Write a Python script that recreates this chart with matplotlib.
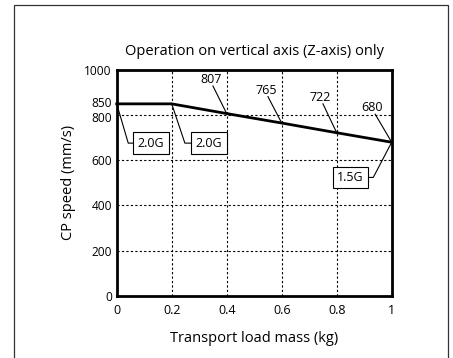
import matplotlib
matplotlib.use("Agg")
import matplotlib.pyplot as plt
from matplotlib.patches import Rectangle
from matplotlib.transforms import ScaledTranslation

plt.rcParams['font.family'] = ['Open Sans', 'DejaVu Sans']

mass = [0.0, 0.2, 0.4, 0.6, 0.8, 1.0]
speed = [850, 850, 807, 765, 722, 680]
value_labels = ["807", "765", "722", "680"]
value_idx = [2, 3, 4, 5]
accel_labels = ["2.0G", "2.0G", "1.5G"]
accel_idx = [0, 1, 5]
yticks = [0, 200, 400, 600, 800, 850, 1000]
xticks = [0, 0.2, 0.4, 0.6, 0.8, 1]
xticklabels = ["0", "0.2", "0.4", "0.6", "0.8", "1"]

fig = plt.figure(figsize=(4.53, 3.58), dpi=100)
fig.patch.set_facecolor('white')
W, H = 453, 358
ax = fig.add_axes([116.7 / W, 1 - 295.7 / H, 275 / W, 225.7 / H])

# outer frame
fig.patches.append(Rectangle((14 / W, -0.05), (448 - 14) / W, 1.05 - 5 / H,
                             transform=fig.transFigure, fill=False,
                             edgecolor='#333333', linewidth=0.9))

ax.plot(mass, speed, color='black', linewidth=2.0, zorder=3, clip_on=False)

ax.set_xlim(0, 1)
ax.set_ylim(0, 1000)
ax.set_xticks(xticks)
ax.set_xticklabels(xticklabels)
ax.set_yticks(yticks)
ax.tick_params(length=0, labelsize=9)
ax.tick_params(axis='x', pad=6)
ax.tick_params(axis='y', pad=3.5, labelsize=8.6)
for s in ax.spines.values():
    s.set_linewidth(2.0)

# nudge the crowded 850 / 800 labels apart slightly
for lbl, v in zip(ax.get_yticklabels(), yticks):
    if v == 850:
        lbl.set_transform(lbl.get_transform() + ScaledTranslation(0, 1.2 / 72, fig.dpi_scale_trans))
    elif v == 800:
        lbl.set_transform(lbl.get_transform() + ScaledTranslation(0, -1.0 / 72, fig.dpi_scale_trans))

for gx in [0.2, 0.4, 0.6, 0.8]:
    ax.axvline(gx, color='black', linestyle=(0, (2, 2)), linewidth=0.8, zorder=1)
for gy in [200, 400, 600, 800]:
    ax.axhline(gy, color='black', linestyle=(0, (2, 2)), linewidth=0.8, zorder=1)

ax.set_title("Operation on vertical axis (Z-axis) only", fontsize=10.5, pad=11)
ax.set_xlabel("Transport load mass (kg)", fontsize=10.5, labelpad=10)
ax.set_ylabel("CP speed (mm/s)", fontsize=10.5, labelpad=6)

# value labels with leader lines
text_pos = [(0.343, 956), (0.543, 911), (0.739, 876), (0.928, 832)]
line_start = [(0.35, 929), (0.55, 882), (0.75, 850), (0.94, 804)]
for lab, i, tp, ls in zip(value_labels, value_idx, text_pos, line_start):
    ax.text(tp[0], tp[1], lab, ha='center', va='center', fontsize=9)
    ax.plot([ls[0], mass[i]], [ls[1], speed[i]], color='black', linewidth=0.8,
            clip_on=False, zorder=4)

# acceleration boxes
box_pos = [(0.125, 676), (0.336, 676), (0.85, 524)]
corner = [(0.042, 676), (0.248, 676), (0.933, 524)]
box_edge = [0.0645, 0.2718, 0.9127]
for lab, i, bp, cn, be in zip(accel_labels, accel_idx, box_pos, corner, box_edge):
    ax.plot([mass[i], cn[0], be], [speed[i], cn[1], cn[1]], color='black',
            linewidth=0.8, clip_on=False, zorder=4)
    ax.text(bp[0], bp[1], lab, ha='center', va='center', fontsize=9, zorder=5,
            bbox=dict(boxstyle='square,pad=0.35', facecolor='white',
                      edgecolor='black', linewidth=0.8))

fig.savefig("out.png", dpi=100)
